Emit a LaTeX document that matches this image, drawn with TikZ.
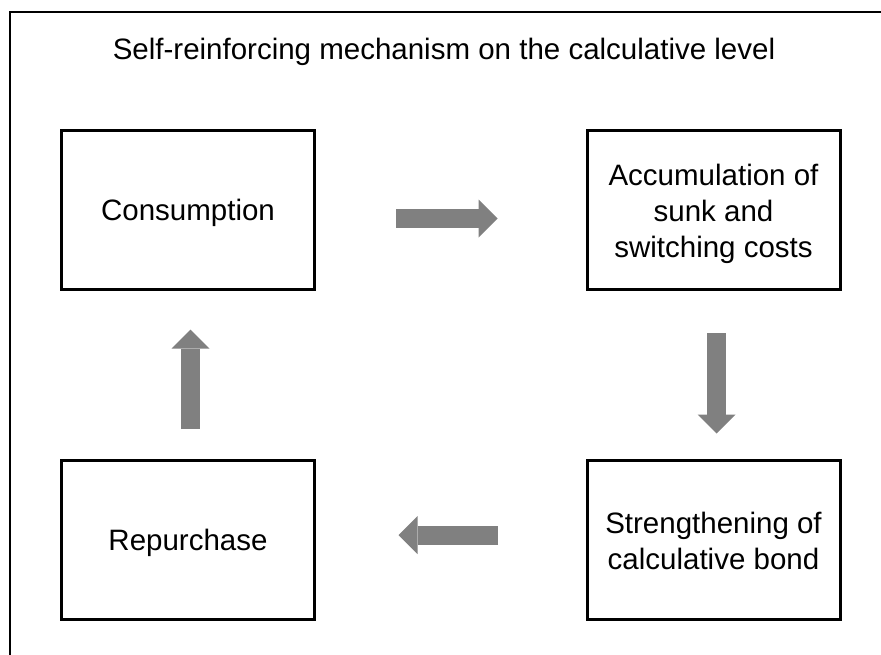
\documentclass[tikz,border=0pt]{standalone}
\usepackage{fontspec}
\setmainfont{Liberation Sans}
\usetikzlibrary{arrows.meta}
\definecolor{arrowgray}{HTML}{808080}
\tikzset{
  stagebox/.style={draw=black, line width=3pt, minimum width=253pt, minimum height=159pt,
    inner sep=0pt},
  stagetext/.style={align=center, inner sep=0pt, font=\fontsize{29.5}{36}\selectfont},
  blockarrow/.style={draw=arrowgray, line width=19pt,
    -{Triangle[width=38pt,length=19pt,line width=0pt]}},
  frameline/.style={draw=black, line width=1.6pt},
}
\begin{document}
\begin{tikzpicture}[x=1pt,y=-1pt]
  \useasboundingbox (0,0) rectangle (881,654);
  % open outer frame
  \draw[frameline] (10,700) -- (10,12) -- (920,12);
  % heading
  \node[anchor=base, font=\fontsize{29.5}{36}\selectfont, inner sep=0pt] (title) at (444,59)
    {Self-reinforcing mechanism on the calculative level};
  % the four stages of the loop
  \node[stagebox, label={[stagetext, yshift=-3pt]center:Consumption}] (cons) at (188,210) {};
  \node[stagebox, label={[stagetext, yshift=-3.5pt]center:{Accumulation of\\sunk and\\switching costs}}] (accu) at (713.5,210) {};
  \node[stagebox, label={[stagetext, yshift=-1pt]center:{Strengthening of\\calculative bond}}] (stren) at (713.5,539.5) {};
  \node[stagebox, label={[stagetext, yshift=-3.5pt]center:Repurchase}] (rep) at (188,539.5) {};
  % block arrows closing the loop
  \draw[blockarrow] ([shift={(80,8.5)}]cons.east) -- ([shift={(-88,8.5)}]accu.west);
  \draw[blockarrow] ([shift={(3,42)}]accu.south) -- ([shift={(3,-25)}]stren.north);
  \draw[blockarrow] ([shift={(-87.5,-4.5)}]stren.west) -- ([shift={(82.5,-4.5)}]rep.east);
  \draw[blockarrow] ([shift={(2.5,-29.5)}]rep.north) -- ([shift={(2.5,38.5)}]cons.south);
\end{tikzpicture}
\end{document}
